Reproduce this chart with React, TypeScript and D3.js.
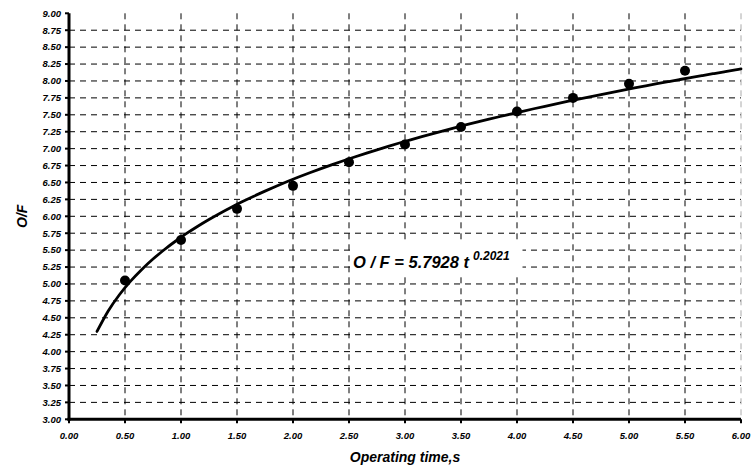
import React from "react";
import * as d3 from "d3";

const times = [0.5, 1.0, 1.5, 2.0, 2.5, 3.0, 3.5, 4.0, 4.5, 5.0, 5.5];
const ofValues = [5.05, 5.65, 6.11, 6.45, 6.8, 7.06, 7.32, 7.55, 7.75, 7.96, 8.15];
const xTicks = [0, 0.5, 1, 1.5, 2, 2.5, 3, 3.5, 4, 4.5, 5, 5.5, 6];
const yTicks = d3.range(0, 25).map((i) => 3 + i * 0.25);
// trendline as drawn in the picture
const curveCoef = 5.69;
const curveExp = 0.2024;
const curveT = d3.range(0, 58).map((i) => 0.25 + i * 0.1).concat([6]);
const eqLabel = "O / F = 5.7928 t";
const eqExpLabel = "0.2021";

export default function App() {
  const W = 756, H = 472;
  const x = d3.scaleLinear().domain([0, 6]).range([69, 741]);
  const y = d3.scaleLinear().domain([3, 9]).range([419.3, 13.3]);
  const font = "Arial, 'Liberation Sans', sans-serif";
  const line = d3
    .line<number>()
    .x((t) => x(t))
    .y((t) => y(curveCoef * Math.pow(t, curveExp)))
    .curve(d3.curveMonotoneX);

  return (
    <svg width={W} height={H} style={{ position: "absolute", left: 0, top: 0, background: "#fff" }}>
      {yTicks.filter((v) => v > 3 && v < 9).map((v) => (
        <line key={"h" + v} x1={x(0)} x2={x(6)} y1={y(v)} y2={y(v)} stroke="#000" strokeWidth={1} strokeDasharray="6,5" />
      ))}
      {xTicks.filter((v) => v > 0).map((v) => (
        <line key={"v" + v} x1={x(v)} x2={x(v)} y1={y(9)} y2={y(3)} stroke={v === 6 ? "#aaa" : "#000"} strokeWidth={1} strokeDasharray="6,5" />
      ))}
      <line x1={x(0)} x2={x(0)} y1={y(9)} y2={y(3) + 1.5} stroke="#000" strokeWidth={3} />
      <line x1={x(0) - 1.5} x2={x(6)} y1={y(3)} y2={y(3)} stroke="#000" strokeWidth={3} />
      {yTicks.map((v) => (
        <g key={"yt" + v}>
          <line x1={x(0) - 4} x2={x(0)} y1={y(v)} y2={y(v)} stroke="#000" strokeWidth={2} />
          <text x={x(0) - 8} y={y(v)} dy="0.35em" textAnchor="end" fontFamily={font} fontSize={9.5} fontWeight="bold" fontStyle="italic">
            {v.toFixed(2)}
          </text>
        </g>
      ))}
      {xTicks.map((v) => (
        <g key={"xt" + v}>
          <line x1={x(v)} x2={x(v)} y1={y(3)} y2={y(3) + 4} stroke="#000" strokeWidth={2} />
          <text x={x(v)} y={439} textAnchor="middle" fontFamily={font} fontSize={9.5} fontWeight="bold" fontStyle="italic">
            {v.toFixed(2)}
          </text>
        </g>
      ))}
      <path d={line(curveT) || ""} fill="none" stroke="#000" strokeWidth={2.8} strokeLinecap="round" />
      {times.map((t, i) => (
        <circle key={"p" + i} cx={x(t)} cy={y(ofValues[i])} r={5} fill="#000" />
      ))}
      <rect x={350.5} y={240} width={172} height={36} fill="#fff" />
      <text x={353} y={268} fontFamily={font} fontSize={16.5} fontWeight="bold" fontStyle="italic">
        {eqLabel}
        <tspan dx={4} dy={-8} fontSize={12}>{eqExpLabel}</tspan>
      </text>
      <text transform={`translate(27,${y(6)}) rotate(-90)`} textAnchor="middle" fontFamily={font} fontSize={14} fontWeight="bold" fontStyle="italic">
        O/F
      </text>
      <text x={405} y={462} textAnchor="middle" fontFamily={font} fontSize={14} fontWeight="bold" fontStyle="italic">
        Operating time,s
      </text>
    </svg>
  );
}
